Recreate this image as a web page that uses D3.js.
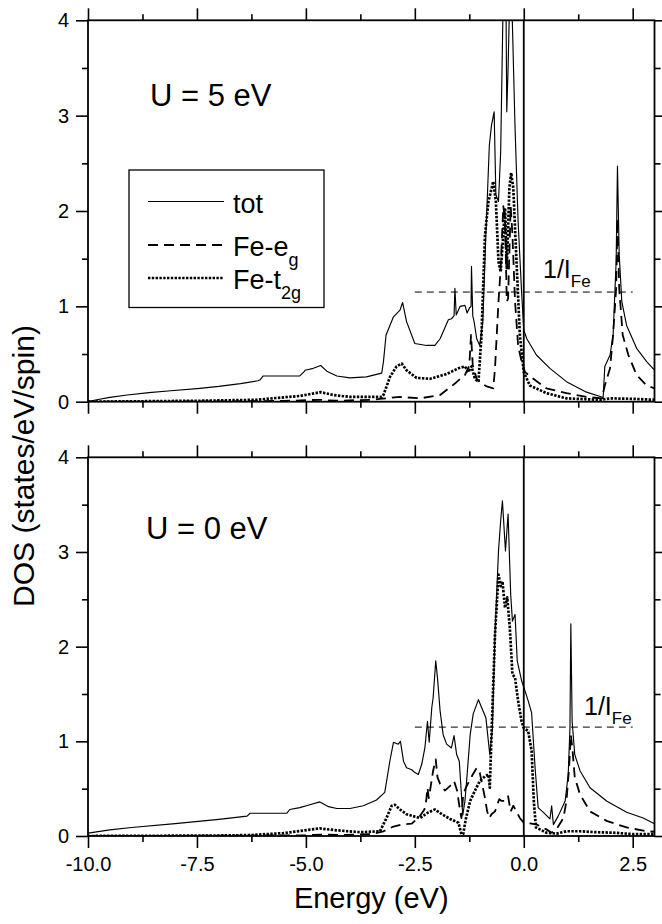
<!DOCTYPE html>
<html>
<head>
<meta charset="utf-8">
<script src="https://cdn.jsdelivr.net/npm/d3@7"></script>
<style>
  body { margin: 0; background: #fff; }
  svg { display: block; font-family: "Liberation Sans", Arial, Helvetica, sans-serif; }
</style>
</head>
<body>
<script>
//--> Data: DOS curves as [energy (eV), states/eV/spin]
const totU5 = [[-10,0],[-9.8,0.02],[-9.5,0.045],[-9.1,0.07],[-8.6,0.095],[-8.1,0.115],[-7.43,0.14],[-7.0,0.16],[-6.5,0.19],[-6.1,0.22],[-6.05,0.23],[-5.98,0.27],[-5.14,0.27],[-5.05,0.31],[-5.02,0.33],[-4.83,0.35],[-4.66,0.38],[-4.52,0.32],[-4.29,0.27],[-3.99,0.25],[-3.61,0.26],[-3.26,0.30],[-3.22,0.42],[-3.16,0.70],[-2.99,0.89],[-2.84,0.96],[-2.78,1.04],[-2.69,0.84],[-2.50,0.61],[-2.23,0.59],[-2.04,0.59],[-1.92,0.66],[-1.73,0.86],[-1.66,0.87],[-1.6,0.9],[-1.58,1.19],[-1.55,0.91],[-1.46,1.00],[-1.35,1.01],[-1.30,0.93],[-1.25,0.98],[-1.21,1.0],[-1.20,1.42],[-1.17,0.9],[-1.14,0.84],[-1.08,0.66],[-1.01,0.59],[-0.94,0.84],[-0.87,1.75],[-0.79,2.69],[-0.74,2.90],[-0.68,3.04],[-0.64,2.17],[-0.58,2.10],[-0.53,2.62],[-0.47,4.3],[-0.41,4.3],[-0.39,3.04],[-0.36,3.5],[-0.32,4.3],[-0.28,4.3],[-0.20,2.87],[-0.13,1.89],[-0.05,1.15],[0,0.75],[0.07,0.66],[0.29,0.49],[0.60,0.35],[0.98,0.21],[1.44,0.10],[1.79,0.05],[1.82,0.03],[1.86,0.37],[1.98,0.49],[2.05,0.70],[2.12,1.47],[2.15,2.47],[2.19,1.54],[2.25,1.05],[2.36,0.80],[2.59,0.56],[2.82,0.42],[3.0,0.33]];
const egU5 = [[-10,0],[-7,0.003],[-5.5,0.008],[-4.7,0.02],[-4.3,0.01],[-3.5,0.02],[-3.3,0.03],[-2.84,0.05],[-2.38,0.035],[-1.92,0.07],[-1.58,0.19],[-1.46,0.24],[-1.35,0.28],[-1.25,0.38],[-1.21,0.70],[-1.17,0.38],[-1.08,0.24],[-1.0,0.2],[-0.85,0.16],[-0.70,0.14],[-0.66,0.35],[-0.58,1.05],[-0.53,1.40],[-0.47,2.05],[-0.43,1.92],[-0.39,1.05],[-0.36,1.08],[-0.30,2.05],[-0.26,1.75],[-0.20,1.05],[-0.13,0.59],[-0.05,0.42],[0.03,0.31],[0.22,0.24],[0.52,0.14],[0.98,0.09],[1.44,0.05],[1.79,0.035],[1.86,0.17],[1.98,0.35],[2.05,0.70],[2.12,1.19],[2.15,1.92],[2.19,1.19],[2.27,0.70],[2.40,0.49],[2.59,0.28],[2.82,0.17],[3.0,0.14]];
const t2gU5 = [[-10,0],[-7.43,0.01],[-6.1,0.02],[-5.9,0.03],[-5.14,0.06],[-4.66,0.10],[-4.37,0.07],[-3.99,0.05],[-3.26,0.05],[-3.22,0.07],[-3.07,0.26],[-2.92,0.37],[-2.80,0.40],[-2.69,0.33],[-2.46,0.25],[-2.15,0.24],[-1.77,0.29],[-1.50,0.35],[-1.35,0.37],[-1.27,0.31],[-1.20,0.37],[-1.12,0.24],[-1.04,0.21],[-0.97,0.70],[-0.89,1.75],[-0.81,2.10],[-0.70,2.31],[-0.64,2.10],[-0.58,1.47],[-0.53,1.36],[-0.47,1.75],[-0.43,2.03],[-0.39,1.40],[-0.33,2.24],[-0.29,2.40],[-0.24,2.24],[-0.16,1.40],[-0.09,0.70],[0,0.31],[0.14,0.17],[0.52,0.09],[0.98,0.035],[1.75,0.02],[1.98,0.035],[2.51,0.03],[3.0,0.02]];

const totU0 = [[-10,0.03],[-9.5,0.065],[-9,0.09],[-8,0.13],[-7,0.175],[-6.35,0.21],[-6.28,0.24],[-5.44,0.24],[-5.37,0.28],[-5.14,0.30],[-4.91,0.33],[-4.68,0.36],[-4.48,0.31],[-4.29,0.29],[-3.99,0.29],[-3.68,0.32],[-3.38,0.38],[-3.19,0.46],[-3.07,0.80],[-2.99,0.99],[-2.88,0.97],[-2.83,1.0],[-2.76,0.79],[-2.69,0.72],[-2.57,0.70],[-2.50,0.67],[-2.42,0.65],[-2.34,0.76],[-2.27,0.93],[-2.21,1.21],[-2.17,0.99],[-2.11,1.36],[-2.08,1.46],[-2.02,1.85],[-1.98,1.67],[-1.92,1.32],[-1.85,1.07],[-1.77,0.97],[-1.66,0.93],[-1.60,1.06],[-1.54,0.86],[-1.48,0.79],[-1.40,0.22],[-1.35,0.37],[-1.30,0.65],[-1.23,1.07],[-1.16,1.29],[-1.04,1.44],[-0.97,1.36],[-0.87,1.25],[-0.78,0.86],[-0.72,1.14],[-0.66,2.13],[-0.58,3.01],[-0.53,3.33],[-0.49,3.54],[-0.42,3.01],[-0.36,3.40],[-0.30,2.55],[-0.26,2.27],[-0.20,2.34],[-0.15,1.85],[-0.05,1.64],[0.03,1.53],[0.10,1.43],[0.18,1.30],[0.26,0.72],[0.33,0.30],[0.45,0.25],[0.60,0.18],[0.64,0.32],[0.68,0.12],[0.79,0.21],[0.95,0.37],[1.02,0.65],[1.06,1.14],[1.08,2.24],[1.11,1.21],[1.17,0.86],[1.29,0.69],[1.52,0.51],[1.90,0.37],[2.36,0.25],[2.74,0.19],[3.0,0.13]];
const egU0 = [[-10,0],[-7,0.003],[-5,0.008],[-4.6,0.015],[-4.2,0.01],[-3.5,0.02],[-3.22,0.05],[-2.99,0.10],[-2.8,0.12],[-2.57,0.13],[-2.4,0.2],[-2.28,0.28],[-2.24,0.37],[-2.21,0.51],[-2.18,0.40],[-2.14,0.51],[-2.08,0.69],[-2.02,0.81],[-1.98,0.62],[-1.92,0.55],[-1.81,0.48],[-1.69,0.53],[-1.60,0.58],[-1.53,0.48],[-1.46,0.26],[-1.43,0.19],[-1.39,0.44],[-1.33,0.51],[-1.25,0.58],[-1.17,0.65],[-1.08,0.72],[-1.01,0.67],[-0.97,0.58],[-0.89,0.40],[-0.84,0.26],[-0.79,0.19],[-0.74,0.23],[-0.66,0.26],[-0.61,0.33],[-0.56,0.39],[-0.51,0.37],[-0.43,0.37],[-0.36,0.42],[-0.30,0.26],[-0.24,0.32],[-0.16,0.25],[-0.09,0.19],[0,0.14],[0.18,0.13],[0.30,0.12],[0.52,0.07],[0.64,0.035],[0.75,0.07],[0.91,0.19],[0.98,0.37],[1.04,0.72],[1.08,1.07],[1.12,0.90],[1.17,0.62],[1.29,0.44],[1.52,0.26],[1.90,0.16],[2.36,0.09],[2.82,0.05],[3.0,0.045]];
const t2gU0 = [[-10,0],[-7,0.005],[-6.28,0.01],[-5.52,0.03],[-4.68,0.08],[-4.29,0.06],[-3.76,0.04],[-3.30,0.05],[-3.15,0.19],[-3.03,0.32],[-2.96,0.33],[-2.84,0.28],[-2.69,0.23],[-2.54,0.21],[-2.38,0.19],[-2.19,0.25],[-2.04,0.28],[-1.88,0.23],[-1.69,0.18],[-1.50,0.14],[-1.43,0.02],[-1.39,0.02],[-1.33,0.18],[-1.23,0.37],[-1.12,0.48],[-1.01,0.58],[-0.89,0.63],[-0.81,0.65],[-0.78,0.51],[-0.74,1.07],[-0.66,2.13],[-0.58,2.76],[-0.53,2.64],[-0.49,2.69],[-0.43,2.41],[-0.38,2.52],[-0.32,2.20],[-0.26,1.71],[-0.20,1.67],[-0.13,1.43],[-0.05,1.21],[0,1.14],[0.10,1.11],[0.18,0.90],[0.23,0.37],[0.28,0.09],[0.37,0.07],[0.52,0.035],[0.75,0.025],[0.98,0.05],[1.29,0.05],[1.67,0.04],[2.05,0.035],[2.51,0.02],[3.0,0.02]];

//--> Ticks and labels
const xMajor = [-10, -7.5, -5, -2.5, 0, 2.5];
const xMinor = [-8.75, -6.25, -3.75, -1.25, 1.25];
const xTickLabels = ["-10.0", "-7.5", "-5.0", "-2.5", "0.0", "2.5"];
const yMajor = [0, 1, 2, 3, 4];
const yMinor = [0.5, 1.5, 2.5, 3.5];
const legendNames = ["tot", "Fe-e", "Fe-t"];
const legendSubs = ["", "g", "2g"];
const panelTitles = ["U = 5 eV", "U = 0 eV"];
const stonerLevel = 1.15;
const stonerRange = [-2.5, 2.5];

//--> Set up main elements
const width = 662;
const height = 924;
const majorLen = 12;
const minorLen = 6;

const x = d3.scaleLinear().domain([-10, 3]).range([88, 654.5]);

const styles = {
  tot: { width: 1.15, dash: null },
  eg: { width: 1.8, dash: "10,6" },
  t2g: { width: 2.7, dash: "2.4,1.4" },
};

const panels = [
  {
    id: "u5", top: 20.3, bottom: 401.7, title: panelTitles[0],
    titleX: 150, titleY: 106, stonerX: 543, stonerY: 278,
    series: { tot: totU5, eg: egU5, t2g: t2gU5 }, labels: false, legend: true,
  },
  {
    id: "u0", top: 457.3, bottom: 836, title: panelTitles[1],
    titleX: 146, titleY: 539, stonerX: 584, stonerY: 715,
    series: { tot: totU0, eg: egU0, t2g: t2gU0 }, labels: true, legend: false,
  },
];

const svg = d3
  .select("body")
  .append("svg")
  .attr("width", width)
  .attr("height", height);

const xTickFormat = d => xTickLabels[xMajor.indexOf(d)];

function styleAxis(g) {
  g.select(".domain").remove();
  g.selectAll("line").attr("stroke", "#000").attr("stroke-width", 1.6);
  g.selectAll("text").attr("fill", "#000").style("font-size", "20px");
}

panels.forEach(p => {
  const y = d3.scaleLinear().domain([0, 4]).range([p.bottom, p.top]);
  const g = svg.append("g").attr("id", p.id);

  //--> Clip
  g.append("clipPath")
    .attr("id", `clip-${p.id}`)
    .append("rect")
    .attr("x", x(-10))
    .attr("y", p.top)
    .attr("width", x(3) - x(-10))
    .attr("height", p.bottom - p.top);

  const plot = g.append("g").attr("clip-path", `url(#clip-${p.id})`);

  //--> Stoner criterion line
  plot
    .append("line")
    .attr("x1", x(stonerRange[0]))
    .attr("x2", x(stonerRange[1]))
    .attr("y1", y(stonerLevel))
    .attr("y2", y(stonerLevel))
    .attr("stroke", "#000")
    .attr("stroke-width", 1)
    .attr("stroke-dasharray", "7,5");

  //--> Curves
  const line = d3
    .line()
    .x(d => x(d[0]))
    .y(d => y(d[1]));

  ["t2g", "eg", "tot"].forEach(k => {
    plot
      .append("path")
      .datum(p.series[k])
      .attr("d", line)
      .attr("fill", "none")
      .attr("stroke", "#000")
      .attr("stroke-width", styles[k].width)
      .attr("stroke-dasharray", styles[k].dash)
      .attr("stroke-linejoin", "round");
  });

  //--> Fermi level
  g.append("line")
    .attr("x1", x(0))
    .attr("x2", x(0))
    .attr("y1", p.top)
    .attr("y2", p.bottom)
    .attr("stroke", "#000")
    .attr("stroke-width", 1.8);

  //--> Axes
  g.append("g")
    .attr("transform", `translate(0,${p.bottom})`)
    .call(
      d3.axisBottom(x)
        .tickValues(xMajor)
        .tickSize(majorLen)
        .tickSizeOuter(0)
        .tickPadding(9)
        .tickFormat(p.labels ? xTickFormat : "")
    )
    .call(styleAxis);
  g.append("g")
    .attr("transform", `translate(0,${p.bottom})`)
    .call(d3.axisBottom(x).tickValues(xMinor).tickSize(minorLen).tickFormat(""))
    .call(styleAxis);
  g.append("g")
    .attr("transform", `translate(0,${p.top})`)
    .call(d3.axisTop(x).tickValues(xMajor).tickSize(majorLen).tickFormat(""))
    .call(styleAxis);
  g.append("g")
    .attr("transform", `translate(0,${p.top})`)
    .call(d3.axisTop(x).tickValues(xMinor).tickSize(minorLen).tickFormat(""))
    .call(styleAxis);

  g.append("g")
    .attr("transform", `translate(${x(-10)},0)`)
    .call(d3.axisLeft(y).tickValues(yMajor).tickSize(majorLen).tickPadding(7).tickFormat(d3.format("d")))
    .call(styleAxis);
  g.append("g")
    .attr("transform", `translate(${x(-10)},0)`)
    .call(d3.axisLeft(y).tickValues(yMinor).tickSize(minorLen).tickFormat(""))
    .call(styleAxis);
  g.append("g")
    .attr("transform", `translate(${x(3)},0)`)
    .call(d3.axisRight(y).tickValues(yMajor).tickSize(majorLen).tickFormat(""))
    .call(styleAxis);
  g.append("g")
    .attr("transform", `translate(${x(3)},0)`)
    .call(d3.axisRight(y).tickValues(yMinor).tickSize(minorLen).tickFormat(""))
    .call(styleAxis);

  //--> Frame
  g.append("rect")
    .attr("x", x(-10))
    .attr("y", p.top)
    .attr("width", x(3) - x(-10))
    .attr("height", p.bottom - p.top)
    .attr("fill", "none")
    .attr("stroke", "#000")
    .attr("stroke-width", 1.8);

  //--> Panel label
  g.append("text")
    .attr("x", p.titleX)
    .attr("y", p.titleY)
    .style("font-size", "31px")
    .text(p.title);

  //--> 1/I_Fe label
  const st = g.append("text")
    .attr("x", p.stonerX)
    .attr("y", p.stonerY)
    .style("font-size", "25px");
  st.append("tspan").text("1/I");
  st.append("tspan").attr("dy", 9).style("font-size", "17px").text("Fe");

  //--> Legend
  if (p.legend) {
    const legend = g.append("g").attr("id", "legend");
    legend
      .append("rect")
      .attr("x", 129)
      .attr("y", 170)
      .attr("width", 195)
      .attr("height", 137.5)
      .attr("fill", "#fff")
      .attr("stroke", "#000")
      .attr("stroke-width", 1.3);

    const keys = ["tot", "eg", "t2g"];
    const rowY = [201.5, 245, 278];
    keys.forEach((k, i) => {
      legend
        .append("line")
        .attr("x1", 148)
        .attr("x2", 224)
        .attr("y1", rowY[i])
        .attr("y2", rowY[i])
        .attr("stroke", "#000")
        .attr("stroke-width", styles[k].width)
        .attr("stroke-dasharray", styles[k].dash);
      const t = legend
        .append("text")
        .attr("x", 233)
        .attr("y", rowY[i] + 11)
        .style("font-size", "27px")
        .text(legendNames[i]);
      if (legendSubs[i])
        t.append("tspan").attr("dy", 10).style("font-size", "18px").text(legendSubs[i]);
    });
  }
});

//--> Axis titles
svg
  .append("text")
  .attr("x", (x(-10) + x(3)) / 2)
  .attr("y", 908)
  .attr("text-anchor", "middle")
  .style("font-size", "29px")
  .text("Energy (eV)");

svg
  .append("text")
  .attr("transform", "translate(34,466) rotate(-90)")
  .attr("text-anchor", "middle")
  .style("font-size", "30px")
  .text("DOS (states/eV/spin)");
</script>
</body>
</html>
